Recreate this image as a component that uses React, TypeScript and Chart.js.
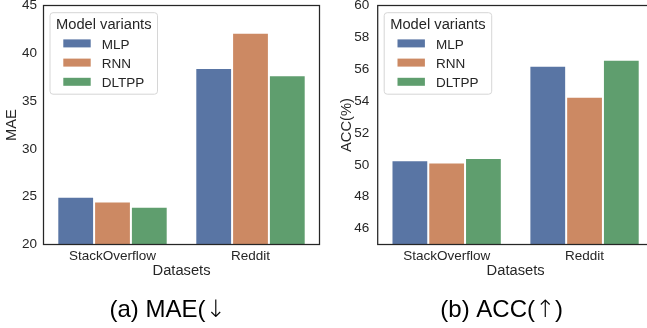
import React, { useEffect, useRef } from "react";
import { Chart, registerables } from "chart.js";

Chart.register(...registerables);

// ---- data ----
const categories = ["StackOverflow", "Reddit"];
const seriesNames = ["MLP", "RNN", "DLTPP"];
const seriesColors = ["#5975a4", "#cc8963", "#5f9e6e"];

const maeMLP = [25.0, 38.45];
const maeRNN = [24.5, 42.15];
const maeDLTPP = [23.95, 37.7];

const accMLP = [50.28, 56.22];
const accRNN = [50.14, 54.28];
const accDLTPP = [50.43, 56.6];

const maeTicks = [20, 25, 30, 35, 40, 45];
const accTicks = [46, 48, 50, 52, 54, 56, 58, 60];

const legendTitle = "Model variants";
const xTitle = "Datasets";
// caption parts: [text, arrow, closing]
const captionA = ["(a) MAE(", "\u2193", ""];
const captionB = ["(b) ACC(", "\u2191", ")"];

const FONT = "'Liberation Sans', Arial, Helvetica, sans-serif";
const ARROW_FONT = "'DejaVu Sans', sans-serif";
const TEXT = "#262626";

const framePlugin = {
  id: "frameLegend",
  afterDatasetsDraw(chart: any) {
    const { ctx, chartArea: a } = chart;
    ctx.save();
    const fs = 13.5;
    const tfs = 14.7;
    ctx.font = `${tfs}px ${FONT}`;
    const titleW = ctx.measureText(legendTitle).width;
    const bx = a.left + 6.5;
    const by = a.top + 7.2;
    const bw = titleW + 12;
    const bh = 81.5;
    const r = 3;
    ctx.beginPath();
    ctx.moveTo(bx + r, by);
    ctx.lineTo(bx + bw - r, by);
    ctx.arcTo(bx + bw, by, bx + bw, by + r, r);
    ctx.lineTo(bx + bw, by + bh - r);
    ctx.arcTo(bx + bw, by + bh, bx + bw - r, by + bh, r);
    ctx.lineTo(bx + r, by + bh);
    ctx.arcTo(bx, by + bh, bx, by + bh - r, r);
    ctx.lineTo(bx, by + r);
    ctx.arcTo(bx, by, bx + r, by, r);
    ctx.closePath();
    ctx.fillStyle = "rgba(255,255,255,0.85)";
    ctx.fill();
    ctx.strokeStyle = "#d6d6d6";
    ctx.lineWidth = 1;
    ctx.stroke();

    ctx.fillStyle = TEXT;
    ctx.textAlign = "center";
    ctx.textBaseline = "alphabetic";
    ctx.fillText(legendTitle, bx + bw / 2, by + 10.7 + 0.358 * tfs);

    ctx.font = `${fs}px ${FONT}`;
    ctx.textAlign = "left";
    chart.data.datasets.forEach((ds: any, i: number) => {
      const cy = by + 31 + 19.2 * i;
      ctx.fillStyle = ds.backgroundColor;
      ctx.fillRect(bx + 13.3, cy - 4.3, 27.4, 8);
      ctx.fillStyle = TEXT;
      ctx.fillText(ds.label, bx + 51.7, cy + 0.358 * fs);
    });

    ctx.strokeStyle = "#262626";
    ctx.lineWidth = 1.25;
    ctx.strokeRect(a.left, a.top, a.right - a.left, a.bottom - a.top);
    ctx.restore();
  },
};

type PanelProps = {
  values: number[][];
  yTitle: string;
  yMin: number;
  yMax: number;
  yTicks: number[];
  canvasW: number;
  canvasH: number;
  areaLeft: number;
  areaRight: number;
  areaTop: number;
  areaBottom: number;
  yTitlePad: number;
  yTickPad: number;
};

function Panel(p: PanelProps) {
  const ref = useRef<HTMLCanvasElement | null>(null);
  useEffect(() => {
    if (!ref.current) return;
    const chart = new Chart(ref.current, {
      type: "bar",
      data: {
        labels: categories,
        datasets: seriesNames.map((name, i) => ({
          label: name,
          data: p.values[i],
          backgroundColor: seriesColors[i],
          borderColor: "rgba(255,255,255,0.9)",
          borderWidth: 1,
          borderSkipped: "start",
          categoryPercentage: 0.8,
          barPercentage: 1.0,
        })),
      },
      options: {
        responsive: false,
        animation: false,
        layout: {
          padding: {
            left: 0,
            top: p.areaTop,
            right: p.canvasW - p.areaRight,
            bottom: 0,
          },
        },
        plugins: {
          legend: { display: false },
          tooltip: { enabled: false },
          title: { display: false },
        },
        scales: {
          x: {
            grid: { display: false, drawTicks: false },
            border: { display: false },
            ticks: {
              color: TEXT,
              padding: 4.1,
              font: { family: FONT, size: 13.5 },
            },
            title: {
              display: true,
              text: xTitle,
              color: TEXT,
              padding: { top: 0, bottom: 0.7 },
              font: { family: FONT, size: 14.7 },
            },
            afterFit: (s: any) => {
              s.height = p.canvasH - p.areaBottom;
              s.paddingLeft = 0;
              s.paddingRight = 0;
            },
          },
          y: {
            min: p.yMin,
            max: p.yMax,
            grid: { display: false, drawTicks: false },
            border: { display: false },
            afterBuildTicks: (axis: any) => {
              axis.ticks = p.yTicks.map((v) => ({ value: v }));
            },
            ticks: {
              color: TEXT,
              padding: p.yTickPad,
              font: { family: FONT, size: 13.5 },
            },
            title: {
              display: true,
              text: p.yTitle,
              color: TEXT,
              padding: { top: p.yTitlePad, bottom: 0 },
              font: { family: FONT, size: 14.7 },
            },
            afterFit: (s: any) => {
              s.width = p.areaLeft;
              s.paddingTop = 0;
              s.paddingBottom = 0;
            },
          },
        },
      },
      plugins: [framePlugin],
    } as any);
    return () => chart.destroy();
  }, []);
  return (
    <canvas
      ref={ref}
      width={p.canvasW}
      height={p.canvasH}
      style={{ width: p.canvasW, height: p.canvasH, display: "block" }}
    />
  );
}

function Captions() {
  const ref = useRef<HTMLCanvasElement | null>(null);
  useEffect(() => {
    const c = ref.current;
    if (!c) return;
    const ctx = c.getContext("2d");
    if (!ctx) return;
    ctx.clearRect(0, 0, c.width, c.height);
    const draw = (parts: string[], cx: number, baseline: number) => {
      const mainFont = `24px ${FONT}`;
      const arrowFont = `200 24px ${ARROW_FONT}`;
      ctx.font = mainFont;
      const w0 = ctx.measureText(parts[0]).width;
      const w2 = ctx.measureText(parts[2]).width;
      ctx.font = arrowFont;
      const w1 = ctx.measureText(parts[1]).width;
      let x = cx - (w0 + w1 + w2) / 2;
      ctx.fillStyle = "#000";
      ctx.textBaseline = "alphabetic";
      ctx.textAlign = "left";
      ctx.font = mainFont;
      ctx.fillText(parts[0], x, baseline);
      x += w0;
      ctx.font = arrowFont;
      ctx.fillText(parts[1], x, baseline);
      x += w1;
      ctx.font = mainFont;
      ctx.fillText(parts[2], x, baseline);
    };
    draw(captionA, 167.5, 37.3);
    draw(captionB, 501.7, 37.3);
  }, []);
  return (
    <canvas
      ref={ref}
      width={647}
      height={48}
      style={{ position: "absolute", left: 0, top: 280, width: 647, height: 48, display: "block" }}
    />
  );
}

export default function App() {
  return (
    <div
      style={{
        position: "absolute",
        left: 0,
        top: 0,
        width: 647,
        height: 328,
        overflow: "hidden",
        background: "#fff",
      }}
    >
      <div style={{ position: "absolute", left: 0, top: 0, width: 323, height: 280, overflow: "hidden" }}>
        <Panel
          values={[maeMLP, maeRNN, maeDLTPP]}
          yTitle="MAE"
          yMin={20}
          yMax={45}
          yTicks={maeTicks}
          canvasW={323}
          canvasH={280}
          areaLeft={43.5}
          areaRight={319.5}
          areaTop={5.5}
          areaBottom={244.5}
          yTitlePad={3.5}
          yTickPad={6.5}
        />
      </div>
      <div style={{ position: "absolute", left: 323, top: 0, width: 324, height: 280, overflow: "hidden" }}>
        <Panel
          values={[accMLP, accRNN, accDLTPP]}
          yTitle="ACC(%)"
          yMin={45}
          yMax={60}
          yTicks={accTicks}
          canvasW={340}
          canvasH={280}
          areaLeft={54.7}
          areaRight={330.5}
          areaTop={5.5}
          areaBottom={244.5}
          yTitlePad={15.2}
          yTickPad={8.5}
        />
      </div>
      <Captions />
    </div>
  );
}
